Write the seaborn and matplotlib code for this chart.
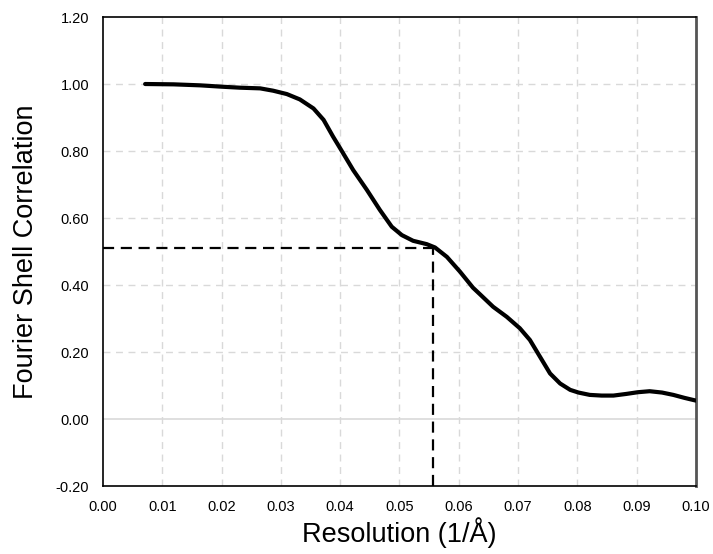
import matplotlib
matplotlib.use("Agg")
import matplotlib.pyplot as plt
import seaborn as sns
import pandas as pd
from matplotlib.ticker import FormatStrFormatter

resolution = [0.0071, 0.0119, 0.0164, 0.0200, 0.0231, 0.0265, 0.0287, 0.0310, 0.0332,
              0.0355, 0.0372, 0.0388, 0.0400, 0.0422, 0.0445, 0.0467, 0.0487, 0.0504,
              0.0523, 0.0546, 0.0560, 0.0580, 0.0602, 0.0624, 0.0636, 0.0658, 0.0681,
              0.0703, 0.0720, 0.0737, 0.0754, 0.0771, 0.0788, 0.0802, 0.0821, 0.0841,
              0.0861, 0.0883, 0.0902, 0.0922, 0.0943, 0.0962, 0.0981, 0.1000]
fsc = [1.000, 0.999, 0.996, 0.992, 0.989, 0.987, 0.980, 0.970, 0.954,
       0.927, 0.893, 0.843, 0.808, 0.743, 0.684, 0.624, 0.574, 0.549,
       0.532, 0.522, 0.512, 0.484, 0.440, 0.392, 0.372, 0.335, 0.305,
       0.271, 0.236, 0.186, 0.136, 0.106, 0.087, 0.079, 0.072, 0.070,
       0.070, 0.075, 0.080, 0.083, 0.079, 0.072, 0.063, 0.055]
cutoff_res = 0.0556
cutoff_fsc = 0.510
x_ticks = [0.00, 0.01, 0.02, 0.03, 0.04, 0.05, 0.06, 0.07, 0.08, 0.09, 0.10]
y_ticks = [-0.20, 0.00, 0.20, 0.40, 0.60, 0.80, 1.00, 1.20]

df = pd.DataFrame({"Resolution": resolution, "FSC": fsc})

sns.set_theme(style="white")
plt.rcParams['font.family'] = ['Liberation Sans', 'DejaVu Sans']

fig = plt.figure(figsize=(7.13, 5.54), dpi=100)
ax = fig.add_axes([0.1445, 0.1227, 0.8315, 0.8466])

ax.set_xlim(0.0, 0.10)
ax.set_ylim(-0.20, 1.20)
ax.set_xticks(x_ticks)
ax.set_yticks(y_ticks)
ax.xaxis.set_major_formatter(FormatStrFormatter('%.2f'))
ax.yaxis.set_major_formatter(FormatStrFormatter('%.2f'))

for xt in x_ticks[1:-1]:
    ax.axvline(xt, color='#d9d9d9', lw=1, ls=(0, (5, 4)), zorder=0)
for yt in y_ticks[1:-1]:
    if yt == 0.0:
        ax.axhline(yt, color='#d9d9d9', lw=1.2, ls='-', zorder=0)
    else:
        ax.axhline(yt, color='#d9d9d9', lw=1, ls=(0, (5, 4)), zorder=0)

ax.plot([0, cutoff_res], [cutoff_fsc, cutoff_fsc], color='black', lw=1.6, ls=(0, (5, 3)), zorder=2)
ax.plot([cutoff_res, cutoff_res], [-0.20, cutoff_fsc], color='black', lw=1.6, ls=(0, (5, 3)), zorder=2)

sns.lineplot(data=df, x="Resolution", y="FSC", ax=ax, color='black', lw=3, zorder=3,
             sort=False, solid_joinstyle='round', solid_capstyle='round')

for s in ['left', 'bottom', 'top']:
    ax.spines[s].set_color('black')
    ax.spines[s].set_linewidth(1.2)
ax.spines['right'].set_color('#555555')
ax.spines['right'].set_linewidth(2)

ax.tick_params(axis='both', length=0, labelsize=10.5, colors='black')
ax.tick_params(axis='y', pad=10)
ax.tick_params(axis='x', pad=10)
ax.set_xlabel("Resolution (1/Å)", fontsize=19.5, color='black', labelpad=2)
ax.set_ylabel("Fourier Shell Correlation", fontsize=19.5, color='black', labelpad=12)

fig.savefig("out.png", dpi=100)
